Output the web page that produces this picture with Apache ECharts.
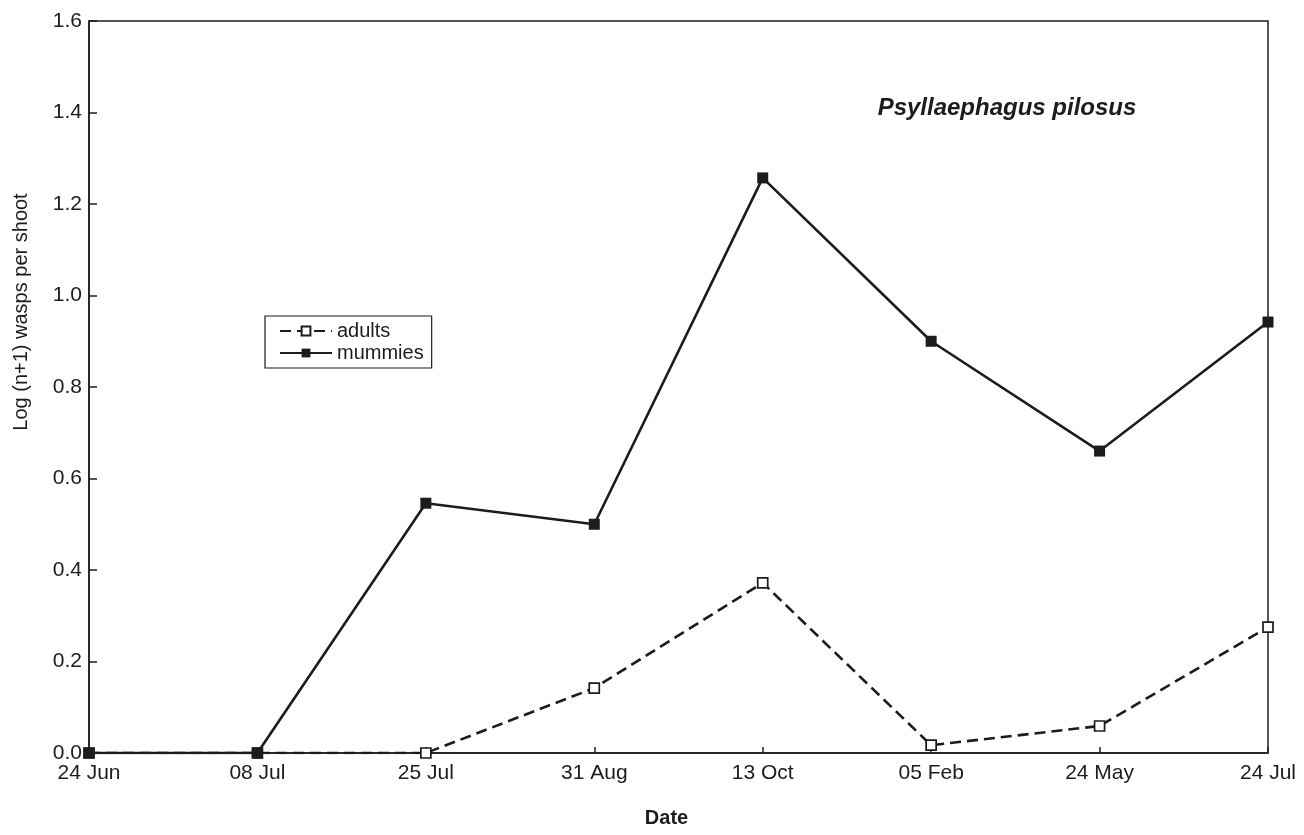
<!DOCTYPE html>
<html>
<head>
<meta charset="utf-8">
<script src="https://cdn.jsdelivr.net/npm/echarts@6/dist/echarts.min.js"></script>
<style>
html,body{margin:0;padding:0;background:#fff;}
#c{width:1304px;height:835px;}
</style>
</head>
<body>
<div id="c"></div>
<script>
const categories = ['24 Jun', '08 Jul', '25 Jul', '31 Aug', '13 Oct', '05 Feb', '24 May', '24 Jul'];
const adults = [0, 0, 0, 0.142, 0.372, 0.017, 0.059, 0.275];
const mummies = [0, 0, 0.546, 0.50, 1.257, 0.90, 0.66, 0.942];
const yTicks = [0, 0.2, 0.4, 0.6, 0.8, 1.0, 1.2, 1.4, 1.6];
const titleText = 'Psyllaephagus pilosus';
const yTitle = 'Log (n+1) wasps per shoot';
const xTitle = 'Date';

const ink = '#1c1c1c';
const font = 'Liberation Sans, Arial, Helvetica, sans-serif';
const chart = echarts.init(document.getElementById('c'), null, {renderer: 'canvas'});
chart.setOption({
  backgroundColor: '#ffffff',
  animation: false,
  title: {
    text: titleText,
    left: 1002, top: 91, textAlign: 'center',
    textStyle: {fontFamily: font, fontSize: 24, fontWeight: 'bold', fontStyle: 'italic', color: ink}
  },
  graphic: [{
    type: 'text', x: 21, y: 312, rotation: Math.PI / 2,
    style: {text: yTitle, fontFamily: font, fontSize: 20, fill: ink, align: 'center', verticalAlign: 'middle'}
  }],
  grid: {
    left: 89, right: 36, top: 21, bottom: 82,
    show: true, borderColor: ink, borderWidth: 1.5, backgroundColor: 'transparent'
  },
  legend: {
    orient: 'vertical', left: 265, top: 316,
    data: ['adults', 'mummies'],
    backgroundColor: '#fff',
    borderColor: ink, borderWidth: 1.2, borderRadius: 0,
    padding: [5, 8, 5, 14], itemGap: 2,
    itemWidth: 52, itemHeight: 11,
    textStyle: {fontFamily: font, fontSize: 20, color: ink}
  },
  xAxis: {
    type: 'category', data: categories, boundaryGap: false,
    name: xTitle, nameLocation: 'middle', nameGap: 55,
    nameTextStyle: {fontFamily: font, fontSize: 20, fontWeight: 'bold', color: ink, padding: [0, 24, 0, 0]},
    axisLine: {lineStyle: {color: ink, width: 1.5}},
    axisTick: {inside: true, length: 6, lineStyle: {color: ink, width: 1.5}, alignWithLabel: true},
    axisLabel: {fontFamily: font, fontSize: 21, color: ink, margin: 10},
    splitLine: {show: false}
  },
  yAxis: {
    type: 'value', min: 0, max: 1.6, interval: 0.2,
    axisLine: {show: true, lineStyle: {color: ink, width: 1.5}},
    axisTick: {show: true, inside: true, length: 8, lineStyle: {color: ink, width: 1.5}},
    axisLabel: {fontFamily: font, fontSize: 21, color: ink, margin: 7,
      formatter: v => { const t = yTicks.find(x => Math.abs(x - v) < 1e-6); return (t === undefined ? v : t).toFixed(1); }},
    splitLine: {show: false}
  },
  series: [
    {
      name: 'adults', type: 'line', data: adults,
      symbol: 'rect', symbolSize: 10, showAllSymbol: true,
      lineStyle: {color: ink, width: 2.6, type: [11, 6]},
      itemStyle: {color: '#fff', borderColor: ink, borderWidth: 1.7},
      z: 2
    },
    {
      name: 'mummies', type: 'line', data: mummies,
      symbol: 'rect', symbolSize: 11, showAllSymbol: true,
      lineStyle: {color: ink, width: 2.6},
      itemStyle: {color: ink, borderColor: ink, borderWidth: 0},
      z: 3
    }
  ]
});
</script>
</body>
</html>
